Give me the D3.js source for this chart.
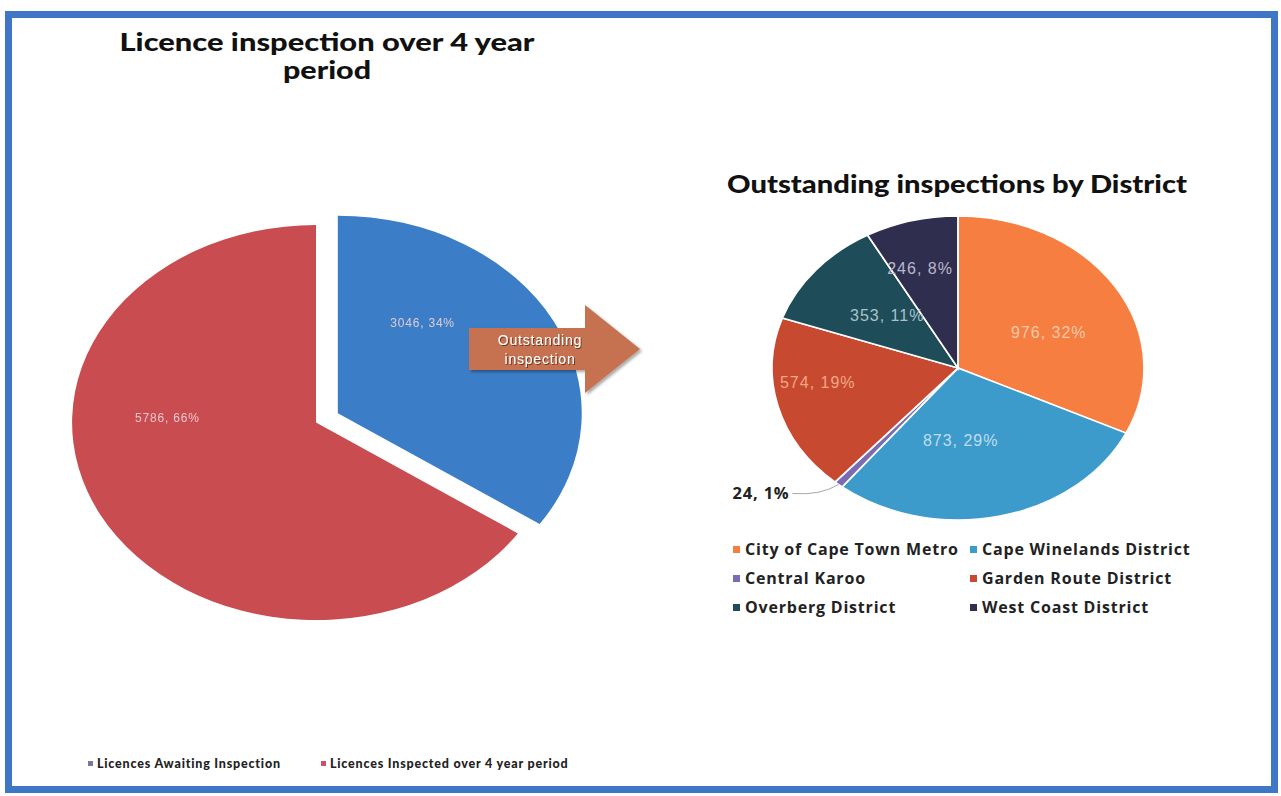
<!DOCTYPE html>
<html>
<head>
<meta charset="utf-8">
<script src="https://cdn.jsdelivr.net/npm/d3@7"></script>
<style>
  html, body { margin: 0; padding: 0; background: #fff; }
  svg { display: block; }
</style>
</head>
<body>
<svg id="chart" width="1281" height="796"></svg>
<script>
// Licence inspection totals over the 4 year period
const licenceCategories = ["Licences Awaiting Inspection", "Licences Inspected over 4 year period"];
const licenceValues = [3046, 5786];
const licencePercents = [34, 66];

// Outstanding inspections split by district
const districtCategories = [
  "City of Cape Town Metro", "Cape Winelands District", "Central Karoo",
  "Garden Route District", "Overberg District", "West Coast District"
];
const districtValues = [976, 873, 24, 574, 353, 246];
const districtPercents = [32, 29, 1, 19, 11, 8];

// ---- styling / layout ----
const licenceColors = ["#3B7DC6", "#C94C51"];
const licenceLegendColors = ["#77779A", "#CE4E6C"];
const districtColors = ["#F67E40", "#3D9BCB", "#7A6CB2", "#C7492F", "#1F4C59", "#2F2E4F"];
const districtLabelColors = ["#F7C8A8", "#BFDDF0", null, "#F2A886", "#A9C2C9", "#B9B8CC"];
// label anchor: [fraction of the slice's sweep, fraction of the radius]
const districtLabelAnchor = [[0.56, 0.54], [0.61, 0.48], null, [0.61, 0.76], [0.54, 0.51], [0.4, 0.68]];
const licenceLabelAnchor = [[0.30, 0.574], [0.628, 0.61]];

const svg = d3.select("#chart");

// page frame
svg.append("rect")
  .attr("x", 8.5).attr("y", 14.5).attr("width", 1266).attr("height", 775)
  .attr("fill", "none").attr("stroke", "#3F76C6").attr("stroke-width", 7);

const defs = svg.append("defs");
const shadow = defs.append("filter").attr("id", "shadow")
  .attr("x", "-20%").attr("y", "-20%").attr("width", "150%").attr("height", "150%");
shadow.append("feDropShadow").attr("dx", 2).attr("dy", 2).attr("stdDeviation", 1.5)
  .attr("flood-color", "#000").attr("flood-opacity", 0.35);
const textShadow = defs.append("filter").attr("id", "tshadow");
textShadow.append("feDropShadow").attr("dx", 1).attr("dy", 1).attr("stdDeviation", 0.6)
  .attr("flood-color", "#000").attr("flood-opacity", 0.5);

const titleFont = "Lato, 'DejaVu Sans', sans-serif";

function title(x, y, width, txt) {
  svg.append("text").attr("x", x).attr("y", y)
    .attr("text-anchor", "middle").attr("font-family", titleFont)
    .attr("font-weight", 900).attr("font-size", 24).attr("fill", "#111")
    .attr("textLength", width).attr("lengthAdjust", "spacingAndGlyphs")
    .text(txt);
}

function anchorPoint(p, anchor, r, sx) {
  const a = p.startAngle + (p.endAngle - p.startAngle) * anchor[0];
  const rr = r * anchor[1];
  return [Math.sin(a) * rr * sx, -Math.cos(a) * rr];
}

// ---------- Left pie ----------
title(327, 51, 415, "Licence inspection over 4 year");
title(327, 79, 88, "period");

const L = { cx: 316, cy: 422.5, r: 197.5, sx: 1.235, explode: 20 };
const licencePie = d3.pie().sort(null).value(d => d)(licenceValues);
const licenceArc = d3.arc().innerRadius(0).outerRadius(L.r);

licencePie.forEach((p, i) => {
  const mid = (p.startAngle + p.endAngle) / 2;
  const off = i === 0 ? L.explode : 0;
  const ox = Math.sin(mid) * off * L.sx;
  const oy = -Math.cos(mid) * off;
  const g = svg.append("g")
    .attr("transform", `translate(${L.cx + ox},${L.cy + oy})`);
  g.append("path")
    .attr("d", licenceArc(p))
    .attr("transform", `scale(${L.sx},1)`)
    .attr("fill", licenceColors[i]);
  const [lx, ly] = anchorPoint(p, licenceLabelAnchor[i], L.r, L.sx);
  g.append("text")
    .attr("x", lx).attr("y", ly + 4)
    .attr("text-anchor", "middle")
    .attr("font-family", "'Liberation Sans', Arial, sans-serif")
    .attr("font-size", 12).attr("letter-spacing", 0.8)
    .attr("fill", "#F1D3D8").attr("opacity", 0.9)
    .text(`${licenceValues[i]}, ${licencePercents[i]}%`);
});

// arrow pointing at the district breakdown
const arrow = svg.append("g").attr("filter", "url(#shadow)");
arrow.append("path")
  .attr("d", "M469,328 L585,328 L585,305 L640,349 L585,393 L585,370 L469,370 Z")
  .attr("fill", "#C6714F");
const arrowText = svg.append("g").attr("filter", "url(#tshadow)")
  .attr("font-family", "'Liberation Sans', Arial, sans-serif")
  .attr("font-size", 14).attr("fill", "#fff").attr("text-anchor", "middle")
  .attr("letter-spacing", 0.8);
arrowText.append("text").attr("x", 540).attr("y", 345).text("Outstanding");
arrowText.append("text").attr("x", 540).attr("y", 364).text("inspection");

// bottom legend for left pie
const legL = svg.append("g").attr("font-family", "Lato, sans-serif")
  .attr("font-weight", 900).attr("font-size", 12.5).attr("letter-spacing", 0.8).attr("fill", "#222");
const legLX = [97, 330];
licenceCategories.forEach((c, i) => {
  legL.append("rect").attr("x", legLX[i] - 9).attr("y", 761).attr("width", 5).attr("height", 5)
    .attr("fill", licenceLegendColors[i]);
  legL.append("text").attr("x", legLX[i]).attr("y", 768).text(c);
});

// ---------- Right pie ----------
title(957, 193, 460, "Outstanding inspections by District");

const R = { cx: 958, cy: 368, r: 152, sx: 1.224 };
const districtPie = d3.pie().sort(null).value(d => d)(districtValues);
const districtArc = d3.arc().innerRadius(0).outerRadius(R.r);

const gR = svg.append("g").attr("transform", `translate(${R.cx},${R.cy})`);
gR.append("g").attr("transform", `scale(${R.sx},1)`)
  .selectAll("path").data(districtPie).join("path")
  .attr("d", districtArc)
  .attr("fill", (d, i) => districtColors[i])
  .attr("stroke", "#fff").attr("stroke-width", 1.5);

districtPie.forEach((p, i) => {
  const mid = (p.startAngle + p.endAngle) / 2;
  if (districtLabelAnchor[i]) {
    const [lx, ly] = anchorPoint(p, districtLabelAnchor[i], R.r, R.sx);
    gR.append("text")
      .attr("x", lx).attr("y", ly + 5)
      .attr("text-anchor", "middle")
      .attr("font-family", "'Liberation Sans', Arial, sans-serif")
      .attr("font-size", 16).attr("letter-spacing", 1)
      .attr("fill", districtLabelColors[i])
      .text(`${districtValues[i]}, ${districtPercents[i]}%`);
  } else {
    // thin slice: label outside with a leader line
    const ex = Math.sin(mid) * R.r * R.sx;
    const ey = -Math.cos(mid) * R.r;
    const lx = ex - 46, ly = ey + 9;
    gR.append("path")
      .attr("d", `M${ex},${ey} Q${ex - 18},${ly + 2} ${lx},${ly}`)
      .attr("fill", "none").attr("stroke", "#A8A8A8").attr("stroke-width", 1);
    gR.append("text")
      .attr("x", lx - 3).attr("y", ly + 5)
      .attr("text-anchor", "end")
      .attr("font-family", "'Open Sans', sans-serif")
      .attr("font-weight", 700).attr("font-size", 16.5).attr("letter-spacing", 0.8).attr("fill", "#222")
      .text(`${districtValues[i]}, ${districtPercents[i]}%`);
  }
});

// district legend
const legR = svg.append("g").attr("font-family", "'Open Sans', sans-serif")
  .attr("font-weight", 700).attr("font-size", 16).attr("letter-spacing", 0.8).attr("fill", "#222");
const colX = [745, 982];
const rowY = [555, 584, 613];
districtCategories.forEach((c, i) => {
  const x = colX[i % 2], y = rowY[Math.floor(i / 2)];
  legR.append("rect").attr("x", x - 12).attr("y", y - 9).attr("width", 7).attr("height", 7)
    .attr("fill", districtColors[i]);
  legR.append("text").attr("x", x).attr("y", y).text(c);
});
</script>
</body>
</html>
